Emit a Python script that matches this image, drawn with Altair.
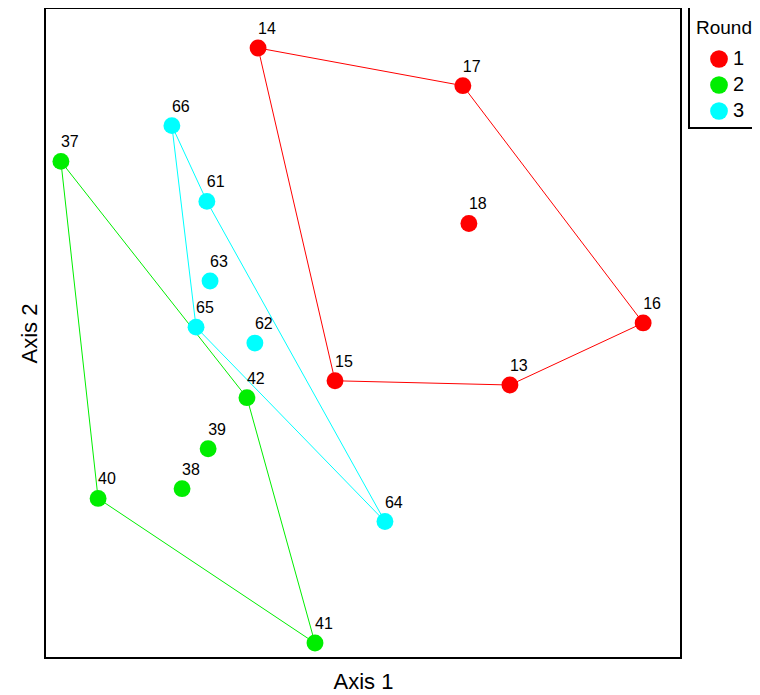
import altair as alt
import pandas as pd

# Sample labels, round membership and ordination scores
labels = ["14", "17", "18", "16", "13", "15",
          "37", "40", "38", "39", "42", "41",
          "66", "61", "63", "65", "62", "64"]
rounds = ["1"] * 6 + ["2"] * 6 + ["3"] * 6
axis1 = [-0.330, 0.314, 0.333, 0.881, 0.462, -0.088,
         -0.950, -0.833, -0.569, -0.487, -0.365, -0.151,
         -0.601, -0.491, -0.481, -0.525, -0.340, 0.069]
axis2 = [0.877, 0.761, 0.337, 0.031, -0.160, -0.147,
         0.528, -0.509, -0.479, -0.356, -0.199, -0.954,
         0.638, 0.405, 0.160, 0.018, -0.031, -0.580]

# Convex hull vertex order for each round (closed)
hull_1 = ["14", "17", "16", "13", "15", "14"]
hull_2 = ["37", "42", "41", "40", "37"]
hull_3 = ["66", "61", "64", "65", "66"]

round_names = ["1", "2", "3"]
round_colors = ["#FF0000", "#00EE00", "#00FFFF"]

pts = pd.DataFrame({"label": labels, "Round": rounds, "a1": axis1, "a2": axis2})
lookup = pts.set_index("label")
rows = []
for rnd, hull in zip(round_names, [hull_1, hull_2, hull_3]):
    for i, lab in enumerate(hull):
        rows.append({"Round": rnd, "order": i,
                     "a1": lookup.loc[lab, "a1"], "a2": lookup.loc[lab, "a2"]})
hull_df = pd.DataFrame(rows)

xs = alt.Scale(domain=[-1, 1], nice=False, zero=False)
ys = alt.Scale(domain=[-1, 1], nice=False, zero=False)
color = alt.Color("Round:N", scale=alt.Scale(domain=round_names, range=round_colors),
                  legend=alt.Legend(title=["", "Round"], orient="none", legendX=644, legendY=-3,
                                    symbolSize=314))

xenc = alt.X("a1:Q", scale=xs, title="Axis 1",
             axis=alt.Axis(labels=False, ticks=False, domain=False, grid=False,
                           titleFontSize=22, titleFontWeight="normal", titlePadding=13,
                           titleFont="Liberation Sans", titleColor="black"))
yenc = alt.Y("a2:Q", scale=ys, title="Axis 2",
             axis=alt.Axis(labels=False, ticks=False, domain=False, grid=False,
                           titleFontSize=22, titleFontWeight="normal", titlePadding=4,
                           titleFont="Liberation Sans", titleColor="black"))

lines = alt.Chart(hull_df).mark_line(strokeWidth=1).encode(
    x=xenc, y=yenc, color=color, detail="Round:N", order="order:Q")

points = alt.Chart(pts).mark_point(filled=True, shape="circle", size=285, opacity=1).encode(
    x=xenc, y=yenc, color=color)

text = alt.Chart(pts).mark_text(align="left", baseline="alphabetic", dx=0, dy=-14,
                                fontSize=16, font="Liberation Sans", color="black").encode(
    x=xenc, y=yenc, text="label:N")

chart = alt.layer(lines, points, text).properties(
    width=636, height=650,
    autosize=alt.AutoSizeParams(type="none"),
    padding={"left": 37, "top": 0, "right": 71, "bottom": 35},
).configure_view(
    stroke="black", strokeWidth=2
).configure_legend(
    strokeColor="black", strokeWidth=2, padding=7, fillColor="white",
    titleFontSize=19, titleFontWeight="normal", titleFont="Liberation Sans", titleColor="black",
    titleLineHeight=7,
    labelFontSize=20, labelFont="Liberation Sans", labelColor="black",
    symbolSize=314, symbolOffset=13, rowPadding=6, titlePadding=11, labelOffset=4,
    symbolStrokeWidth=0, symbolType="circle"
)

chart.save("out.html", embed_options={"renderer": "svg", "actions": False})
